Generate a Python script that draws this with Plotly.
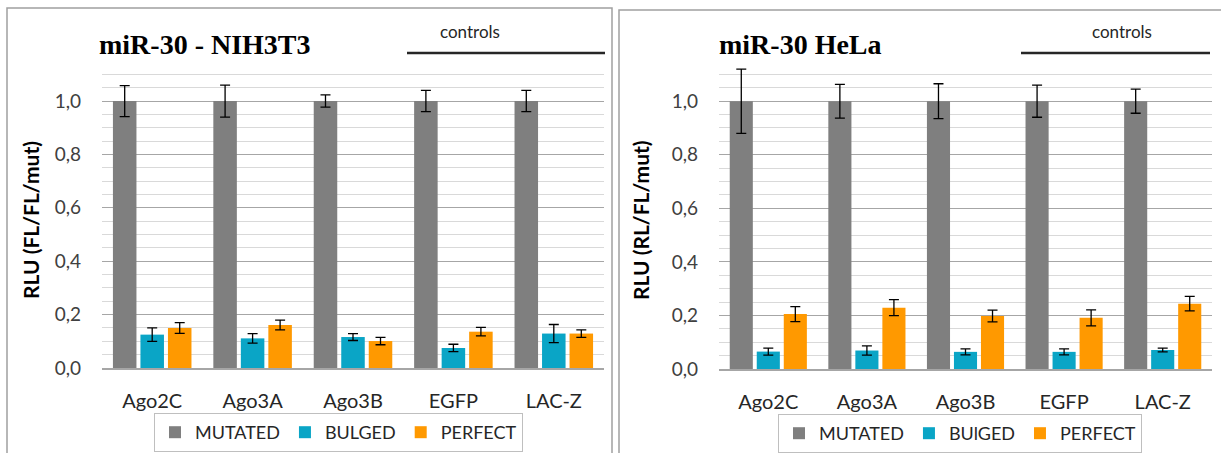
import plotly.graph_objects as go

W, H = 1221, 453

categories = ["Ago2C", "Ago3A", "Ago3B", "EGFP", "LAC-Z"]
series_names_left = ["MUTATED", "BULGED", "PERFECT"]
series_names_right = ["MUTATED", "BUlGED", "PERFECT"]

# NIH3T3
nih_mutated = [1.0, 1.0, 1.0, 1.0, 1.0]
nih_mutated_err = [0.058, 0.06, 0.023, 0.04, 0.04]
nih_bulged = [0.125, 0.111, 0.116, 0.075, 0.129]
nih_bulged_err = [0.025, 0.018, 0.013, 0.014, 0.034]
nih_perfect = [0.150, 0.161, 0.101, 0.136, 0.129]
nih_perfect_err = [0.020, 0.018, 0.014, 0.016, 0.014]

# HeLa
hela_mutated = [1.0, 1.0, 1.0, 1.0, 1.0]
hela_mutated_err = [0.12, 0.063, 0.065, 0.06, 0.045]
hela_bulged = [0.065, 0.069, 0.064, 0.064, 0.071]
hela_bulged_err = [0.013, 0.017, 0.011, 0.011, 0.007]
hela_perfect = [0.205, 0.229, 0.198, 0.191, 0.244]
hela_perfect_err = [0.028, 0.030, 0.022, 0.030, 0.027]

colors = ["#7f7f7f", "#0aa5c6", "#ff9900"]

def px(x):
    return x / W

def py(y):
    return 1 - y / H

fig = go.Figure()

panels = [
    ("x", "y", "legend", series_names_left,
     [(nih_mutated, nih_mutated_err), (nih_bulged, nih_bulged_err), (nih_perfect, nih_perfect_err)]),
    ("x2", "y2", "legend2", series_names_right,
     [(hela_mutated, hela_mutated_err), (hela_bulged, hela_bulged_err), (hela_perfect, hela_perfect_err)]),
]

for xa, ya, lg, names, data in panels:
    for name, (vals, errs), col in zip(names, data, colors):
        fig.add_trace(go.Bar(
            x=categories, y=vals, name=name, xaxis=xa, yaxis=ya, legend=lg,
            marker=dict(color=col, line=dict(width=0)),
            error_y=dict(type="data", array=errs, visible=True, color="black",
                         thickness=1.3, width=5),
        ))

tickfont = dict(family="Lato", size=19, color="#404040")

def yax(domain):
    return dict(domain=domain, range=[0, 1.15], dtick=0.2, tick0=0,
                tickformat=".1f", showgrid=True, gridcolor="#a6a6a6", gridwidth=1,
                minor=dict(dtick=0.05, showgrid=True, gridcolor="#d9d9d9", gridwidth=1),
                zeroline=False, showline=False, ticks="", ticklabelstandoff=20,
                tickfont=tickfont, fixedrange=True, automargin=False)

def xax(domain, anchor):
    return dict(domain=domain, anchor=anchor, showline=True, linecolor="#a6a6a6",
                linewidth=1.5, ticks="", tickfont=dict(family="Lato", size=20, color="#262626"),
                ticklabelstandoff=14, showgrid=False, fixedrange=True, automargin=False)

fig.update_layout(
    width=W, height=H, margin=dict(l=0, r=0, t=0, b=0, autoexpand=False),
    paper_bgcolor="white", plot_bgcolor="white",
    barmode="group", bargap=0.178, bargroupgap=0.145,
    separators=",.",
    xaxis=xax([px(102), px(604)], "y"),
    yaxis=dict(**yax([py(368), py(61)]), anchor="x"),
    xaxis2=xax([px(719), px(1212)], "y2"),
    yaxis2=dict(**yax([py(369), py(61)]), anchor="x2"),
    legend=dict(orientation="h", x=px(154), y=py(413), xanchor="left", yanchor="top",
                bordercolor="#bfbfbf", borderwidth=1, font=dict(family="Lato", size=18, color="#262626"),
                itemclick=False),
    legend2=dict(orientation="h", x=px(778), y=py(414), xanchor="left", yanchor="top",
                 bordercolor="#bfbfbf", borderwidth=1, font=dict(family="Lato", size=18, color="#262626"),
                 itemclick=False),
    showlegend=True,
)

# panel borders
fig.add_shape(type="rect", xref="paper", yref="paper", x0=px(7), x1=px(612), y0=-0.05, y1=py(8),
              line=dict(color="#a0a0a0", width=1.5), fillcolor="rgba(0,0,0,0)", layer="below")
fig.add_shape(type="rect", xref="paper", yref="paper", x0=px(619), x1=px(1224), y0=-0.05, y1=py(10),
              line=dict(color="#a0a0a0", width=1.5), fillcolor="rgba(0,0,0,0)", layer="below")

# controls lines
fig.add_shape(type="line", xref="paper", yref="paper", x0=px(407), x1=px(605), y0=py(53), y1=py(53),
              line=dict(color="#262626", width=2.5))
fig.add_shape(type="line", xref="paper", yref="paper", x0=px(1021), x1=px(1210), y0=py(53), y1=py(53),
              line=dict(color="#262626", width=2.5))

annots = [
    dict(text="<b>miR-30 - NIH3T3</b>", x=px(97), y=py(44), xanchor="left", yanchor="middle",
         font=dict(family="Liberation Serif", size=28, color="black")),
    dict(text="<b>miR-30 HeLa</b>", x=px(717), y=py(44), xanchor="left", yanchor="middle",
         font=dict(family="Liberation Serif", size=28, color="black")),
    dict(text="controls", x=px(470), y=py(31), xanchor="center", yanchor="middle",
         font=dict(family="Lato", size=17, color="#262626")),
    dict(text="controls", x=px(1122), y=py(31), xanchor="center", yanchor="middle",
         font=dict(family="Lato", size=17, color="#262626")),
    dict(text="<b>RLU (FL/FL/mut)</b>", x=px(30), y=py(220), xanchor="center", yanchor="middle",
         textangle=-90, font=dict(family="Lato", size=21, color="black")),
    dict(text="<b>RLU (RL/FL/mut)</b>", x=px(640), y=py(220), xanchor="center", yanchor="middle",
         textangle=-90, font=dict(family="Lato", size=21, color="black")),
]
for a in annots:
    fig.add_annotation(xref="paper", yref="paper", showarrow=False, **a)

fig.write_html("out.html")
